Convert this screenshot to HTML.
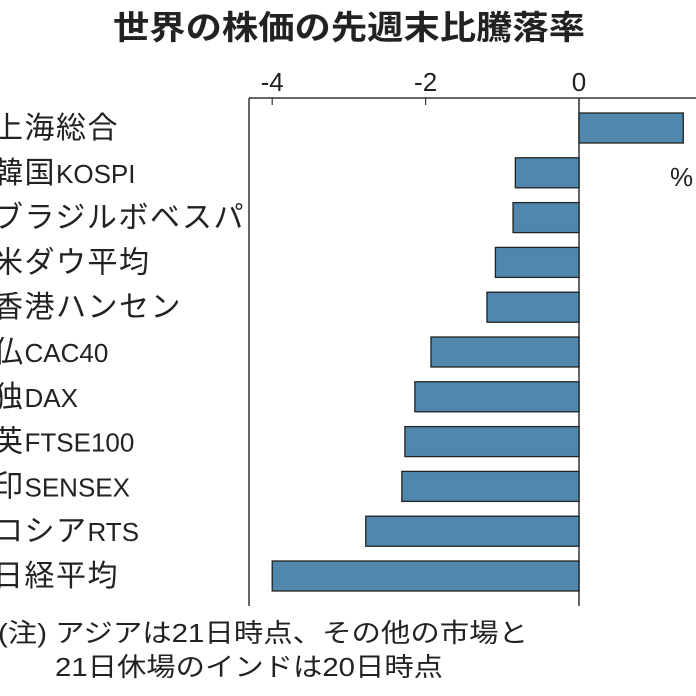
<!DOCTYPE html>
<html><head><meta charset="utf-8"><style>
html,body{margin:0;padding:0;background:#fff;width:696px;height:696px;overflow:hidden}
svg{display:block}
text{font-family:"Liberation Sans","Noto Sans CJK JP",sans-serif;fill:#222}
</style></head><body>
<svg id="chart" width="696" height="696" viewBox="0 0 696 696">
<text x="113" y="39" font-size="33" font-weight="bold" textLength="472" lengthAdjust="spacingAndGlyphs">世界の株価の先週末比騰落率</text>
<g id="axis"></g>
<g id="bars"></g>
<g id="labels"></g>
<text x="670" y="186" font-size="26">%</text>
<text x="-2" y="642" font-size="26" textLength="530" lengthAdjust="spacingAndGlyphs">(注) アジアは21日時点、その他の市場と</text>
<text x="55" y="676" font-size="26" textLength="388" lengthAdjust="spacingAndGlyphs">21日休場のインドは20日時点</text>
</svg>
<script>
const categories=["上海総合","韓国KOSPI","ブラジルボベスパ","米ダウ平均","香港ハンセン","仏CAC40","独DAX","英FTSE100","印SENSEX","ロシアRTS","日経平均"];
const values=[1.36,-0.83,-0.86,-1.09,-1.2,-1.93,-2.14,-2.27,-2.31,-2.78,-4.0];
const tickValues=[-4,-2,0];
const tickLabels=["-4","-2","0"];
const NS="http://www.w3.org/2000/svg";
const x=v=>579+v*76.7;
const y0=128,step=44.8,bh=30;
const yc=i=>y0+i*step;
function mk(tag,attrs,parent){const e=document.createElementNS(NS,tag);for(const k in attrs)e.setAttribute(k,attrs[k]);parent.appendChild(e);return e;}
const axis=document.getElementById('axis'),bars=document.getElementById('bars'),labels=document.getElementById('labels');
let l=mk('line',{x1:249,y1:98,x2:696,y2:98,stroke:'#333','stroke-width':1.5},axis);

l=mk('line',{x1:249,y1:98,x2:249,y2:606,stroke:'#333','stroke-width':1.5},axis);

l=mk('line',{x1:x(0),y1:98,x2:x(0),y2:606,stroke:'#333','stroke-width':1.5},axis);

tickValues.forEach((v,i)=>{
  const t=mk('line',{x1:x(v),y1:98,x2:x(v),y2:105,stroke:'#333','stroke-width':1.2},axis);
  
  const tx=mk('text',{x:x(v),y:91,'text-anchor':'middle','font-size':26},axis);
  tx.textContent=tickLabels[i];
  
});
categories.forEach((c,i)=>{
  const v=values[i];
  const r=mk('rect',{x:Math.min(x(0),x(v)),y:yc(i)-bh/2,width:Math.abs(x(v)-x(0)),height:bh,fill:'#4f87ad',stroke:'#222','stroke-width':1.3},bars);
  
  const t=mk('text',{x:-7,y:yc(i)+10,'font-size':30,'letter-spacing':1.5},labels);
  
  c.split(/([A-Za-z0-9]+)/).forEach(part=>{
    if(!part)return;
    const s=mk('tspan',/[A-Za-z0-9]/.test(part)?{'font-size':26,'letter-spacing':0}:{},t);
    s.textContent=part;
  });
});
</script>
</body></html>
